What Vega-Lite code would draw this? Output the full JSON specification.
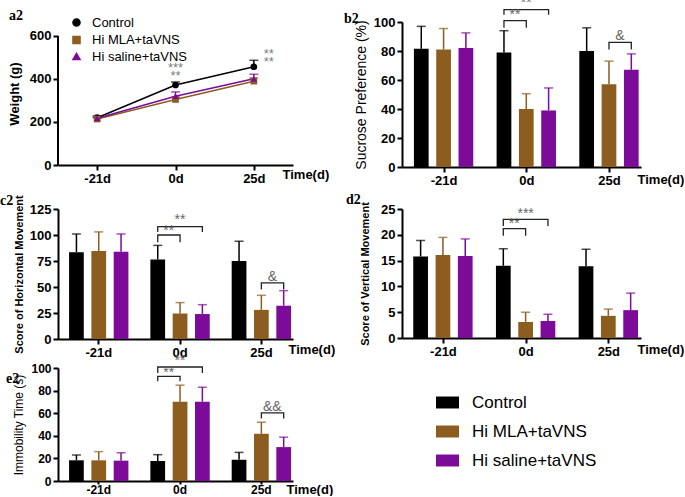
{
  "$schema": "https://vega.github.io/schema/vega-lite/v6.json",
  "padding": {"left": 0, "top": -4, "right": 0, "bottom": 0},
  "datasets": {
    "w": [
      {"t": "-21d", "g": "Control", "m": 220, "hi": 228},
      {"t": "-21d", "g": "Hi MLA+taVNS", "m": 214, "hi": 219},
      {"t": "-21d", "g": "Hi saline+taVNS", "m": 217, "hi": 222},
      {"t": "0d", "g": "Control", "m": 372, "hi": 386},
      {"t": "0d", "g": "Hi MLA+taVNS", "m": 305, "hi": 316},
      {"t": "0d", "g": "Hi saline+taVNS", "m": 320, "hi": 340},
      {"t": "25d", "g": "Control", "m": 457, "hi": 487},
      {"t": "25d", "g": "Hi MLA+taVNS", "m": 390, "hi": 405},
      {"t": "25d", "g": "Hi saline+taVNS", "m": 401, "hi": 422}
    ],
    "wtxt": [
      {"t": "0d", "y": 452, "s": "***", "k": "c"},
      {"t": "0d", "y": 414, "s": "**", "k": "c"},
      {"t": "25d", "y": 516, "s": "**", "k": "r"},
      {"t": "25d", "y": 479, "s": "**", "k": "r"}
    ],
    "bars": [
      {"p": "b2", "t": "-21d", "g": "Control", "m": 81.5, "hi": 97},
      {"p": "b2", "t": "-21d", "g": "Hi MLA+taVNS", "m": 81, "hi": 95.5},
      {"p": "b2", "t": "-21d", "g": "Hi saline+taVNS", "m": 82, "hi": 92.5},
      {"p": "b2", "t": "0d", "g": "Control", "m": 79, "hi": 94},
      {"p": "b2", "t": "0d", "g": "Hi MLA+taVNS", "m": 40, "hi": 50.5},
      {"p": "b2", "t": "0d", "g": "Hi saline+taVNS", "m": 39, "hi": 54.5},
      {"p": "b2", "t": "25d", "g": "Control", "m": 80, "hi": 96},
      {"p": "b2", "t": "25d", "g": "Hi MLA+taVNS", "m": 57, "hi": 73},
      {"p": "b2", "t": "25d", "g": "Hi saline+taVNS", "m": 67, "hi": 78},
      {"p": "c2", "t": "-21d", "g": "Control", "m": 83.5, "hi": 101},
      {"p": "c2", "t": "-21d", "g": "Hi MLA+taVNS", "m": 84.5, "hi": 103},
      {"p": "c2", "t": "-21d", "g": "Hi saline+taVNS", "m": 84, "hi": 101},
      {"p": "c2", "t": "0d", "g": "Control", "m": 76.5, "hi": 90},
      {"p": "c2", "t": "0d", "g": "Hi MLA+taVNS", "m": 24.5, "hi": 35},
      {"p": "c2", "t": "0d", "g": "Hi saline+taVNS", "m": 24, "hi": 33},
      {"p": "c2", "t": "25d", "g": "Control", "m": 75, "hi": 94},
      {"p": "c2", "t": "25d", "g": "Hi MLA+taVNS", "m": 28, "hi": 42},
      {"p": "c2", "t": "25d", "g": "Hi saline+taVNS", "m": 32, "hi": 46.5},
      {"p": "d2", "t": "-21d", "g": "Control", "m": 15.8, "hi": 18.9},
      {"p": "d2", "t": "-21d", "g": "Hi MLA+taVNS", "m": 16.1, "hi": 19.5},
      {"p": "d2", "t": "-21d", "g": "Hi saline+taVNS", "m": 15.9, "hi": 19.2},
      {"p": "d2", "t": "0d", "g": "Control", "m": 14, "hi": 17.3},
      {"p": "d2", "t": "0d", "g": "Hi MLA+taVNS", "m": 3.1, "hi": 5.0},
      {"p": "d2", "t": "0d", "g": "Hi saline+taVNS", "m": 3.3, "hi": 4.6},
      {"p": "d2", "t": "25d", "g": "Control", "m": 13.9, "hi": 17.2},
      {"p": "d2", "t": "25d", "g": "Hi MLA+taVNS", "m": 4.3, "hi": 5.6},
      {"p": "d2", "t": "25d", "g": "Hi saline+taVNS", "m": 5.4, "hi": 8.7},
      {"p": "e2", "t": "-21d", "g": "Control", "m": 18.3, "hi": 23},
      {"p": "e2", "t": "-21d", "g": "Hi MLA+taVNS", "m": 18.3, "hi": 26},
      {"p": "e2", "t": "-21d", "g": "Hi saline+taVNS", "m": 18, "hi": 25},
      {"p": "e2", "t": "0d", "g": "Control", "m": 17.7, "hi": 23.3},
      {"p": "e2", "t": "0d", "g": "Hi MLA+taVNS", "m": 70.2, "hi": 84.8},
      {"p": "e2", "t": "0d", "g": "Hi saline+taVNS", "m": 70.2, "hi": 83},
      {"p": "e2", "t": "25d", "g": "Control", "m": 18.8, "hi": 25.3},
      {"p": "e2", "t": "25d", "g": "Hi MLA+taVNS", "m": 41.8, "hi": 52},
      {"p": "e2", "t": "25d", "g": "Hi saline+taVNS", "m": 30, "hi": 38.8}
    ],
    "brk": [
      {"p": "b2", "id": "b1", "t": "0d", "g": "Control", "y": 96, "o": 1},
      {"p": "b2", "id": "b1", "t": "0d", "g": "Control", "y": 101, "o": 2},
      {"p": "b2", "id": "b1", "t": "0d", "g": "Hi MLA+taVNS", "y": 101, "o": 3},
      {"p": "b2", "id": "b1", "t": "0d", "g": "Hi MLA+taVNS", "y": 96, "o": 4},
      {"p": "b2", "id": "b2", "t": "0d", "g": "Control", "y": 105, "o": 1},
      {"p": "b2", "id": "b2", "t": "0d", "g": "Control", "y": 108.6, "o": 2},
      {"p": "b2", "id": "b2", "t": "0d", "g": "Hi saline+taVNS", "y": 108.6, "o": 3},
      {"p": "b2", "id": "b2", "t": "0d", "g": "Hi saline+taVNS", "y": 105, "o": 4},
      {"p": "b2", "id": "b3", "t": "25d", "g": "Hi MLA+taVNS", "y": 81, "o": 1},
      {"p": "b2", "id": "b3", "t": "25d", "g": "Hi MLA+taVNS", "y": 86, "o": 2},
      {"p": "b2", "id": "b3", "t": "25d", "g": "Hi saline+taVNS", "y": 86, "o": 3},
      {"p": "b2", "id": "b3", "t": "25d", "g": "Hi saline+taVNS", "y": 81, "o": 4},
      {"p": "c2", "id": "c1", "t": "0d", "g": "Control", "y": 93, "o": 1},
      {"p": "c2", "id": "c1", "t": "0d", "g": "Control", "y": 100, "o": 2},
      {"p": "c2", "id": "c1", "t": "0d", "g": "Hi MLA+taVNS", "y": 100, "o": 3},
      {"p": "c2", "id": "c1", "t": "0d", "g": "Hi MLA+taVNS", "y": 93, "o": 4},
      {"p": "c2", "id": "c2", "t": "0d", "g": "Control", "y": 103, "o": 1},
      {"p": "c2", "id": "c2", "t": "0d", "g": "Control", "y": 108, "o": 2},
      {"p": "c2", "id": "c2", "t": "0d", "g": "Hi saline+taVNS", "y": 108, "o": 3},
      {"p": "c2", "id": "c2", "t": "0d", "g": "Hi saline+taVNS", "y": 103, "o": 4},
      {"p": "c2", "id": "c3", "t": "25d", "g": "Hi MLA+taVNS", "y": 47.5, "o": 1},
      {"p": "c2", "id": "c3", "t": "25d", "g": "Hi MLA+taVNS", "y": 54, "o": 2},
      {"p": "c2", "id": "c3", "t": "25d", "g": "Hi saline+taVNS", "y": 54, "o": 3},
      {"p": "c2", "id": "c3", "t": "25d", "g": "Hi saline+taVNS", "y": 47.5, "o": 4},
      {"p": "d2", "id": "d1", "t": "0d", "g": "Control", "y": 19.8, "o": 1},
      {"p": "d2", "id": "d1", "t": "0d", "g": "Control", "y": 21.2, "o": 2},
      {"p": "d2", "id": "d1", "t": "0d", "g": "Hi MLA+taVNS", "y": 21.2, "o": 3},
      {"p": "d2", "id": "d1", "t": "0d", "g": "Hi MLA+taVNS", "y": 19.8, "o": 4},
      {"p": "d2", "id": "d2", "t": "0d", "g": "Control", "y": 21.7, "o": 1},
      {"p": "d2", "id": "d2", "t": "0d", "g": "Control", "y": 23.0, "o": 2},
      {"p": "d2", "id": "d2", "t": "0d", "g": "Hi saline+taVNS", "y": 23.0, "o": 3},
      {"p": "d2", "id": "d2", "t": "0d", "g": "Hi saline+taVNS", "y": 21.7, "o": 4},
      {"p": "e2", "id": "e1", "t": "0d", "g": "Control", "y": 88.2, "o": 1},
      {"p": "e2", "id": "e1", "t": "0d", "g": "Control", "y": 92.6, "o": 2},
      {"p": "e2", "id": "e1", "t": "0d", "g": "Hi MLA+taVNS", "y": 92.6, "o": 3},
      {"p": "e2", "id": "e1", "t": "0d", "g": "Hi MLA+taVNS", "y": 88.2, "o": 4},
      {"p": "e2", "id": "e2", "t": "0d", "g": "Control", "y": 95.6, "o": 1},
      {"p": "e2", "id": "e2", "t": "0d", "g": "Control", "y": 100.9, "o": 2},
      {"p": "e2", "id": "e2", "t": "0d", "g": "Hi saline+taVNS", "y": 100.9, "o": 3},
      {"p": "e2", "id": "e2", "t": "0d", "g": "Hi saline+taVNS", "y": 95.6, "o": 4},
      {"p": "e2", "id": "e3", "t": "25d", "g": "Hi MLA+taVNS", "y": 55.3, "o": 1},
      {"p": "e2", "id": "e3", "t": "25d", "g": "Hi MLA+taVNS", "y": 60.3, "o": 2},
      {"p": "e2", "id": "e3", "t": "25d", "g": "Hi saline+taVNS", "y": 60.3, "o": 3},
      {"p": "e2", "id": "e3", "t": "25d", "g": "Hi saline+taVNS", "y": 55.3, "o": 4}
    ],
    "txt": [
      {"p": "b2", "t": "0d", "g": "Control", "y": 104.5, "s": "**", "k": "half"},
      {"p": "b2", "t": "0d", "g": "Hi MLA+taVNS", "y": 113, "s": "**", "k": "mid"},
      {"p": "b2", "t": "25d", "g": "Hi MLA+taVNS", "y": 90.5, "s": "&", "k": "half"},
      {"p": "c2", "t": "0d", "g": "Control", "y": 103.5, "s": "**", "k": "half"},
      {"p": "c2", "t": "0d", "g": "Hi MLA+taVNS", "y": 114, "s": "**", "k": "mid"},
      {"p": "c2", "t": "25d", "g": "Hi MLA+taVNS", "y": 60, "s": "&", "k": "half"},
      {"p": "d2", "t": "0d", "g": "Control", "y": 22.0, "s": "**", "k": "half"},
      {"p": "d2", "t": "0d", "g": "Hi MLA+taVNS", "y": 24.1, "s": "***", "k": "mid"},
      {"p": "e2", "t": "0d", "g": "Control", "y": 96, "s": "**", "k": "half"},
      {"p": "e2", "t": "0d", "g": "Hi MLA+taVNS", "y": 106, "s": "**", "k": "mid"},
      {"p": "e2", "t": "25d", "g": "Hi MLA+taVNS", "y": 65.5, "s": "&&", "k": "half"}
    ]
  },
  "concat": [
    {
      "vconcat": [
        {
          "width": 235, "height": 143,
          "title": {"text": "a2", "dx": -49, "offset": -7},
          "resolve": {"scale": {"x": "independent"}, "axis": {"x": "independent"}},
          "layer": [
            {
              "data": {"name": "w"},
              "encoding": {
                "x": {"field": "t", "type": "ordinal", "sort": ["-21d", "0d", "25d"], "scale": {"type": "point", "padding": 0.5},
                      "axis": {"title": "Time(d)", "titleX": 224, "titleY": 9, "orient": "bottom"}}
              },
              "layer": [
                {"mark": {"type": "rule", "strokeWidth": 1.5},
                 "encoding": {
                   "y": {"field": "m", "type": "quantitative", "title": "Weight (g)", "scale": {"domain": [0, 665.1], "nice": false},
                         "axis": {"values": [0, 200, 400, 600], "domain": false, "titleFontWeight": "bold", "titleFontSize": 13, "titlePadding": 8}},
                   "y2": {"field": "hi"},
                   "color": {"field": "g", "type": "nominal", "scale": {"domain": ["Control", "Hi MLA+taVNS", "Hi saline+taVNS"], "range": ["#000000", "#8C5D1F", "#7B0B98"]},
                             "legend": {"orient": "none", "legendX": 12, "legendY": -6, "title": null, "labelFontSize": 13, "labelFont": "Liberation Sans", "labelColor": "black", "symbolSize": 50, "rowPadding": 2.5, "labelOffset": 9,
                                        "encode": {"symbols": {"update": {"shape": {"signal": "datum.value === 'Control' ? 'M-2.3,0H2.3M-1,0A1,1 0 1,0 1,0A1,1 0 1,0 -1,0Z' : datum.value === 'Hi MLA+taVNS' ? 'M-2.3,0H2.3M-0.9,-0.9H0.9V0.9H-0.9Z' : 'M-2.3,0H2.3M0,-1.1L1,0.75H-1Z'"}, "stroke": {"signal": "datum.value === 'Control' ? '#000000' : datum.value === 'Hi MLA+taVNS' ? '#8C5D1F' : '#7B0B98'"}, "strokeWidth": {"value": 1.5}}}}}}}},
                {"mark": {"type": "tick", "thickness": 1.5, "size": 9, "orient": "horizontal"},
                 "encoding": {"y": {"field": "hi", "type": "quantitative", "title": "Weight (g)", "axis": {"values": [0, 200, 400, 600], "domain": false, "titleFontWeight": "bold", "titleFontSize": 13, "titlePadding": 8}},
                              "color": {"field": "g", "type": "nominal",
                                        "legend": {"orient": "none", "legendX": 12, "legendY": -6, "title": null, "labelFontSize": 13, "labelFont": "Liberation Sans", "labelColor": "black", "symbolSize": 50, "rowPadding": 2.5, "labelOffset": 9,
                                        "encode": {"symbols": {"update": {"shape": {"signal": "datum.value === 'Control' ? 'M-2.3,0H2.3M-1,0A1,1 0 1,0 1,0A1,1 0 1,0 -1,0Z' : datum.value === 'Hi MLA+taVNS' ? 'M-2.3,0H2.3M-0.9,-0.9H0.9V0.9H-0.9Z' : 'M-2.3,0H2.3M0,-1.1L1,0.75H-1Z'"}, "stroke": {"signal": "datum.value === 'Control' ? '#000000' : datum.value === 'Hi MLA+taVNS' ? '#8C5D1F' : '#7B0B98'"}, "strokeWidth": {"value": 1.5}}}}}}}},
                {"mark": {"type": "line", "strokeWidth": 1.5},
                 "encoding": {"y": {"field": "m", "type": "quantitative", "title": "Weight (g)", "axis": {"values": [0, 200, 400, 600], "domain": false, "titleFontWeight": "bold", "titleFontSize": 13, "titlePadding": 8}},
                              "color": {"field": "g", "type": "nominal",
                                        "legend": {"orient": "none", "legendX": 12, "legendY": -6, "title": null, "labelFontSize": 13, "labelFont": "Liberation Sans", "labelColor": "black", "symbolSize": 50, "rowPadding": 2.5, "labelOffset": 9,
                                        "encode": {"symbols": {"update": {"shape": {"signal": "datum.value === 'Control' ? 'M-2.3,0H2.3M-1,0A1,1 0 1,0 1,0A1,1 0 1,0 -1,0Z' : datum.value === 'Hi MLA+taVNS' ? 'M-2.3,0H2.3M-0.9,-0.9H0.9V0.9H-0.9Z' : 'M-2.3,0H2.3M0,-1.1L1,0.75H-1Z'"}, "stroke": {"signal": "datum.value === 'Control' ? '#000000' : datum.value === 'Hi MLA+taVNS' ? '#8C5D1F' : '#7B0B98'"}, "strokeWidth": {"value": 1.5}}}}}}}},
                {"mark": {"type": "point", "filled": true, "size": 45, "opacity": 1},
                 "encoding": {"y": {"field": "m", "type": "quantitative", "title": "Weight (g)", "axis": {"values": [0, 200, 400, 600], "domain": false, "titleFontWeight": "bold", "titleFontSize": 13, "titlePadding": 8}},
                              "color": {"field": "g", "type": "nominal",
                                        "legend": {"orient": "none", "legendX": 12, "legendY": -6, "title": null, "labelFontSize": 13, "labelFont": "Liberation Sans", "labelColor": "black", "symbolSize": 50, "rowPadding": 2.5, "labelOffset": 9,
                                        "encode": {"symbols": {"update": {"shape": {"signal": "datum.value === 'Control' ? 'M-2.3,0H2.3M-1,0A1,1 0 1,0 1,0A1,1 0 1,0 -1,0Z' : datum.value === 'Hi MLA+taVNS' ? 'M-2.3,0H2.3M-0.9,-0.9H0.9V0.9H-0.9Z' : 'M-2.3,0H2.3M0,-1.1L1,0.75H-1Z'"}, "stroke": {"signal": "datum.value === 'Control' ? '#000000' : datum.value === 'Hi MLA+taVNS' ? '#8C5D1F' : '#7B0B98'"}, "strokeWidth": {"value": 1.5}}}}}},
                              "shape": {"field": "g", "type": "nominal", "scale": {"domain": ["Control", "Hi MLA+taVNS", "Hi saline+taVNS"], "range": ["circle", "square", "triangle-up"]},
                                        "legend": {"orient": "none", "legendX": 12, "legendY": -6, "title": null, "labelFontSize": 13, "labelFont": "Liberation Sans", "labelColor": "black", "symbolSize": 50, "rowPadding": 2.5, "labelOffset": 9,
                                        "encode": {"symbols": {"update": {"shape": {"signal": "datum.value === 'Control' ? 'M-2.3,0H2.3M-1,0A1,1 0 1,0 1,0A1,1 0 1,0 -1,0Z' : datum.value === 'Hi MLA+taVNS' ? 'M-2.3,0H2.3M-0.9,-0.9H0.9V0.9H-0.9Z' : 'M-2.3,0H2.3M0,-1.1L1,0.75H-1Z'"}, "stroke": {"signal": "datum.value === 'Control' ? '#000000' : datum.value === 'Hi MLA+taVNS' ? '#8C5D1F' : '#7B0B98'"}, "strokeWidth": {"value": 1.5}}}}}}}},
                {"data": {"name": "wtxt"}, "transform": [{"filter": "datum.k === 'c'"}],
                 "mark": {"type": "text", "color": "#808080", "fontSize": 13, "baseline": "middle"},
                 "encoding": {"y": {"field": "y", "type": "quantitative", "title": "Weight (g)", "axis": {"values": [0, 200, 400, 600], "domain": false, "titleFontWeight": "bold", "titleFontSize": 13, "titlePadding": 8}}, "text": {"field": "s"}}},
                {"data": {"name": "wtxt"}, "transform": [{"filter": "datum.k === 'r'"}],
                 "mark": {"type": "text", "color": "#808080", "fontSize": 13, "baseline": "middle", "dx": 15},
                 "encoding": {"y": {"field": "y", "type": "quantitative", "title": "Weight (g)", "axis": {"values": [0, 200, 400, 600], "domain": false, "titleFontWeight": "bold", "titleFontSize": 13, "titlePadding": 8}}, "text": {"field": "s"}}}
              ]
            },
            {
              "data": {"values": [{}]},
              "mark": {"type": "rule", "color": "black", "strokeWidth": 2},
              "encoding": {
                "x": {"datum": 0, "type": "quantitative", "scale": {"domain": [0, 1]}, "axis": null},
                "y": {"datum": 0, "type": "quantitative", "title": "Weight (g)", "axis": {"values": [0, 200, 400, 600], "domain": false, "titleFontWeight": "bold", "titleFontSize": 13, "titlePadding": 8}},
                "y2": {"datum": 600}
              }
            }
          ]
        },
        {
          "vconcat": [
            {
              "width": 235, "height": 130,
              "title": {"text": "c2", "dx": -58, "offset": -13},
              "encoding": {
                "x": {"field": "t", "type": "nominal", "sort": ["-21d", "0d", "25d"], "scale": {"paddingInner": 0.27, "paddingOuter": 0.08, "align": 0.85},
                      "axis": {"title": "Time(d)", "titleX": 230, "titleY": 10}},
                "xOffset": {"field": "g", "type": "nominal", "sort": ["Control", "Hi MLA+taVNS", "Hi saline+taVNS"], "scale": {"paddingInner": 0.34, "paddingOuter": 0}}
              },
              "layer": [
                {"data": {"name": "bars"}, "transform": [{"filter": "datum.p === 'c2'"}], "mark": {"type": "bar"},
                 "encoding": {"y": {"field": "m", "type": "quantitative", "title": "Score of Horizontal Movement", "scale": {"domain": [0, 125], "nice": false},
                                    "axis": {"values": [0, 25, 50, 75, 100, 125], "titleFontWeight": "bold", "titleFontSize": 11, "titlePadding": 5}},
                              "color": {"field": "g", "type": "nominal", "legend": null}}},
                {"data": {"name": "bars"}, "transform": [{"filter": "datum.p === 'c2'"}], "mark": {"type": "rule", "strokeWidth": 1.5},
                 "encoding": {"y": {"field": "m", "type": "quantitative", "title": "Score of Horizontal Movement", "axis": {"values": [0, 25, 50, 75, 100, 125], "titleFontWeight": "bold", "titleFontSize": 11, "titlePadding": 5}}, "y2": {"field": "hi"}, "color": {"field": "g", "type": "nominal", "legend": null}}},
                {"data": {"name": "bars"}, "transform": [{"filter": "datum.p === 'c2'"}], "mark": {"type": "tick", "thickness": 1.5, "size": 9, "orient": "horizontal"},
                 "encoding": {"y": {"field": "hi", "type": "quantitative", "title": "Score of Horizontal Movement", "axis": {"values": [0, 25, 50, 75, 100, 125], "titleFontWeight": "bold", "titleFontSize": 11, "titlePadding": 5}}, "color": {"field": "g", "type": "nominal", "legend": null}}},
                {"data": {"name": "brk"}, "transform": [{"filter": "datum.p === 'c2'"}], "mark": {"type": "line", "color": "#222222", "strokeWidth": 1.3},
                 "encoding": {"y": {"field": "y", "type": "quantitative", "title": "Score of Horizontal Movement", "axis": {"values": [0, 25, 50, 75, 100, 125], "titleFontWeight": "bold", "titleFontSize": 11, "titlePadding": 5}}, "detail": {"field": "id"}, "order": {"field": "o"}}},
                {"data": {"name": "txt"}, "transform": [{"filter": "datum.p === 'c2' && datum.k === 'half'"}], "mark": {"type": "text", "color": "#666666", "fontSize": 14, "baseline": "middle", "dx": 11},
                 "encoding": {"y": {"field": "y", "type": "quantitative", "title": "Score of Horizontal Movement", "axis": {"values": [0, 25, 50, 75, 100, 125], "titleFontWeight": "bold", "titleFontSize": 11, "titlePadding": 5}}, "text": {"field": "s"}}},
                {"data": {"name": "txt"}, "transform": [{"filter": "datum.p === 'c2' && datum.k === 'mid'"}], "mark": {"type": "text", "color": "#666666", "fontSize": 14, "baseline": "middle"},
                 "encoding": {"y": {"field": "y", "type": "quantitative", "title": "Score of Horizontal Movement", "axis": {"values": [0, 25, 50, 75, 100, 125], "titleFontWeight": "bold", "titleFontSize": 11, "titlePadding": 5}}, "text": {"field": "s"}}}
              ]
            },
            {
              "width": 235, "height": 113,
              "title": {"text": "e2", "dx": -52, "offset": -32},
              "encoding": {
                "x": {"field": "t", "type": "nominal", "sort": ["-21d", "0d", "25d"], "scale": {"paddingInner": 0.27, "paddingOuter": 0.08, "align": 0.85},
                      "axis": {"title": "Time(d)", "titleX": 228, "titleY": 8, "labelFontSize": 12, "labelPadding": 0, "tickSize": 3}},
                "xOffset": {"field": "g", "type": "nominal", "sort": ["Control", "Hi MLA+taVNS", "Hi saline+taVNS"], "scale": {"paddingInner": 0.34, "paddingOuter": 0}}
              },
              "layer": [
                {"data": {"name": "bars"}, "transform": [{"filter": "datum.p === 'e2'"}], "mark": {"type": "bar"},
                 "encoding": {"y": {"field": "m", "type": "quantitative", "title": "Immobility Time (s)", "scale": {"domain": [0, 100], "nice": false},
                                    "axis": {"values": [0, 20, 40, 60, 80, 100], "titleFontWeight": "normal", "titleFontSize": 12, "titlePadding": 5, "labelFontSize": 12}},
                              "color": {"field": "g", "type": "nominal", "legend": null}}},
                {"data": {"name": "bars"}, "transform": [{"filter": "datum.p === 'e2'"}], "mark": {"type": "rule", "strokeWidth": 1.5},
                 "encoding": {"y": {"field": "m", "type": "quantitative", "title": "Immobility Time (s)", "axis": {"values": [0, 20, 40, 60, 80, 100], "titleFontWeight": "normal", "titleFontSize": 12, "titlePadding": 5, "labelFontSize": 12}}, "y2": {"field": "hi"}, "color": {"field": "g", "type": "nominal", "legend": null}}},
                {"data": {"name": "bars"}, "transform": [{"filter": "datum.p === 'e2'"}], "mark": {"type": "tick", "thickness": 1.5, "size": 9, "orient": "horizontal"},
                 "encoding": {"y": {"field": "hi", "type": "quantitative", "title": "Immobility Time (s)", "axis": {"values": [0, 20, 40, 60, 80, 100], "titleFontWeight": "normal", "titleFontSize": 12, "titlePadding": 5, "labelFontSize": 12}}, "color": {"field": "g", "type": "nominal", "legend": null}}},
                {"data": {"name": "brk"}, "transform": [{"filter": "datum.p === 'e2'"}], "mark": {"type": "line", "color": "#222222", "strokeWidth": 1.3},
                 "encoding": {"y": {"field": "y", "type": "quantitative", "title": "Immobility Time (s)", "axis": {"values": [0, 20, 40, 60, 80, 100], "titleFontWeight": "normal", "titleFontSize": 12, "titlePadding": 5, "labelFontSize": 12}}, "detail": {"field": "id"}, "order": {"field": "o"}}},
                {"data": {"name": "txt"}, "transform": [{"filter": "datum.p === 'e2' && datum.k === 'half'"}], "mark": {"type": "text", "color": "#666666", "fontSize": 14, "baseline": "middle", "dx": 11},
                 "encoding": {"y": {"field": "y", "type": "quantitative", "title": "Immobility Time (s)", "axis": {"values": [0, 20, 40, 60, 80, 100], "titleFontWeight": "normal", "titleFontSize": 12, "titlePadding": 5, "labelFontSize": 12}}, "text": {"field": "s"}}},
                {"data": {"name": "txt"}, "transform": [{"filter": "datum.p === 'e2' && datum.k === 'mid'"}], "mark": {"type": "text", "color": "#666666", "fontSize": 14, "baseline": "middle"},
                 "encoding": {"y": {"field": "y", "type": "quantitative", "title": "Immobility Time (s)", "axis": {"values": [0, 20, 40, 60, 80, 100], "titleFontWeight": "normal", "titleFontSize": 12, "titlePadding": 5, "labelFontSize": 12}}, "text": {"field": "s"}}}
              ]
            }
          ],
          "spacing": -5,
          "resolve": {"legend": {"color": "independent", "shape": "independent"}}
        }
      ],
      "spacing": 8,
      "resolve": {"legend": {"color": "independent", "shape": "independent"}}
    },
    {
      "vconcat": [
        {
          "width": 239, "height": 145,
          "title": {"text": "b2", "dx": -58, "offset": -30},
          "encoding": {
            "x": {"field": "t", "type": "nominal", "sort": ["-21d", "0d", "25d"], "scale": {"paddingInner": 0.27, "paddingOuter": 0.08, "align": 0.9},
                  "axis": {"title": "Time(d)", "titleX": 235, "titleY": 12}},
            "xOffset": {"field": "g", "type": "nominal", "sort": ["Control", "Hi MLA+taVNS", "Hi saline+taVNS"], "scale": {"paddingInner": 0.34, "paddingOuter": 0}}
          },
          "layer": [
            {"data": {"name": "bars"}, "transform": [{"filter": "datum.p === 'b2'"}], "mark": {"type": "bar"},
             "encoding": {"y": {"field": "m", "type": "quantitative", "title": "Sucrose Preference (%)", "scale": {"domain": [0, 100], "nice": false},
                                "axis": {"values": [0, 20, 40, 60, 80, 100], "titleFontWeight": "normal", "titleFontSize": 14, "titlePadding": 5}},
                          "color": {"field": "g", "type": "nominal", "legend": null}}},
            {"data": {"name": "bars"}, "transform": [{"filter": "datum.p === 'b2'"}], "mark": {"type": "rule", "strokeWidth": 1.5},
             "encoding": {"y": {"field": "m", "type": "quantitative", "title": "Sucrose Preference (%)", "axis": {"values": [0, 20, 40, 60, 80, 100], "titleFontWeight": "normal", "titleFontSize": 14, "titlePadding": 5}}, "y2": {"field": "hi"}, "color": {"field": "g", "type": "nominal", "legend": null}}},
            {"data": {"name": "bars"}, "transform": [{"filter": "datum.p === 'b2'"}], "mark": {"type": "tick", "thickness": 1.5, "size": 9, "orient": "horizontal"},
             "encoding": {"y": {"field": "hi", "type": "quantitative", "title": "Sucrose Preference (%)", "axis": {"values": [0, 20, 40, 60, 80, 100], "titleFontWeight": "normal", "titleFontSize": 14, "titlePadding": 5}}, "color": {"field": "g", "type": "nominal", "legend": null}}},
            {"data": {"name": "brk"}, "transform": [{"filter": "datum.p === 'b2'"}], "mark": {"type": "line", "color": "#222222", "strokeWidth": 1.3},
             "encoding": {"y": {"field": "y", "type": "quantitative", "title": "Sucrose Preference (%)", "axis": {"values": [0, 20, 40, 60, 80, 100], "titleFontWeight": "normal", "titleFontSize": 14, "titlePadding": 5}}, "detail": {"field": "id"}, "order": {"field": "o"}}},
            {"data": {"name": "txt"}, "transform": [{"filter": "datum.p === 'b2' && datum.k === 'half'"}], "mark": {"type": "text", "color": "#666666", "fontSize": 14, "baseline": "middle", "dx": 11},
             "encoding": {"y": {"field": "y", "type": "quantitative", "title": "Sucrose Preference (%)", "axis": {"values": [0, 20, 40, 60, 80, 100], "titleFontWeight": "normal", "titleFontSize": 14, "titlePadding": 5}}, "text": {"field": "s"}}},
            {"data": {"name": "txt"}, "transform": [{"filter": "datum.p === 'b2' && datum.k === 'mid'"}], "mark": {"type": "text", "color": "#666666", "fontSize": 14, "baseline": "middle"},
             "encoding": {"y": {"field": "y", "type": "quantitative", "title": "Sucrose Preference (%)", "axis": {"values": [0, 20, 40, 60, 80, 100], "titleFontWeight": "normal", "titleFontSize": 14, "titlePadding": 5}}, "text": {"field": "s"}}}
          ]
        },
        {
          "width": 239, "height": 129,
          "title": {"text": "d2", "dx": -56, "offset": -5},
          "encoding": {
            "x": {"field": "t", "type": "nominal", "sort": ["-21d", "0d", "25d"], "scale": {"paddingInner": 0.27, "paddingOuter": 0.08, "align": 0.85},
                  "axis": {"title": "Time(d)", "titleX": 235, "titleY": 11}},
            "xOffset": {"field": "g", "type": "nominal", "sort": ["Control", "Hi MLA+taVNS", "Hi saline+taVNS"], "scale": {"paddingInner": 0.34, "paddingOuter": 0}}
          },
          "layer": [
            {"data": {"name": "bars"}, "transform": [{"filter": "datum.p === 'd2'"}], "mark": {"type": "bar"},
             "encoding": {"y": {"field": "m", "type": "quantitative", "title": "Score of Vertical Movement", "scale": {"domain": [0, 25], "nice": false},
                                "axis": {"values": [0, 5, 10, 15, 20, 25], "titleFontWeight": "bold", "titleFontSize": 11, "titlePadding": 10}},
                          "color": {"field": "g", "type": "nominal",
                                    "legend": {"orient": "none", "legendX": 34, "legendY": 182, "title": null, "symbolType": "M-1,-0.52H1V0.52H-1Z", "symbolSize": 529, "symbolStrokeWidth": 0, "symbolOpacity": 1, "labelFontSize": 17, "labelFont": "Liberation Sans", "labelColor": "black", "rowPadding": 9, "labelOffset": 13}}}},
            {"data": {"name": "bars"}, "transform": [{"filter": "datum.p === 'd2'"}], "mark": {"type": "rule", "strokeWidth": 1.5},
             "encoding": {"y": {"field": "m", "type": "quantitative", "title": "Score of Vertical Movement", "axis": {"values": [0, 5, 10, 15, 20, 25], "titleFontWeight": "bold", "titleFontSize": 11, "titlePadding": 10}}, "y2": {"field": "hi"}, "color": {"field": "g", "type": "nominal", "legend": null}}},
            {"data": {"name": "bars"}, "transform": [{"filter": "datum.p === 'd2'"}], "mark": {"type": "tick", "thickness": 1.5, "size": 9, "orient": "horizontal"},
             "encoding": {"y": {"field": "hi", "type": "quantitative", "title": "Score of Vertical Movement", "axis": {"values": [0, 5, 10, 15, 20, 25], "titleFontWeight": "bold", "titleFontSize": 11, "titlePadding": 10}}, "color": {"field": "g", "type": "nominal", "legend": null}}},
            {"data": {"name": "brk"}, "transform": [{"filter": "datum.p === 'd2'"}], "mark": {"type": "line", "color": "#222222", "strokeWidth": 1.3},
             "encoding": {"y": {"field": "y", "type": "quantitative", "title": "Score of Vertical Movement", "axis": {"values": [0, 5, 10, 15, 20, 25], "titleFontWeight": "bold", "titleFontSize": 11, "titlePadding": 10}}, "detail": {"field": "id"}, "order": {"field": "o"}}},
            {"data": {"name": "txt"}, "transform": [{"filter": "datum.p === 'd2' && datum.k === 'half'"}], "mark": {"type": "text", "color": "#666666", "fontSize": 14, "baseline": "middle", "dx": 11},
             "encoding": {"y": {"field": "y", "type": "quantitative", "title": "Score of Vertical Movement", "axis": {"values": [0, 5, 10, 15, 20, 25], "titleFontWeight": "bold", "titleFontSize": 11, "titlePadding": 10}}, "text": {"field": "s"}}},
            {"data": {"name": "txt"}, "transform": [{"filter": "datum.p === 'd2' && datum.k === 'mid'"}], "mark": {"type": "text", "color": "#666666", "fontSize": 14, "baseline": "middle"},
             "encoding": {"y": {"field": "y", "type": "quantitative", "title": "Score of Vertical Movement", "axis": {"values": [0, 5, 10, 15, 20, 25], "titleFontWeight": "bold", "titleFontSize": 11, "titlePadding": 10}}, "text": {"field": "s"}}}
          ]
        }
      ],
      "spacing": 5,
      "resolve": {"legend": {"color": "independent", "shape": "independent"}}
    }
  ],
  "columns": 2,
  "align": "none",
  "spacing": 9,
  "resolve": {"legend": {"color": "independent", "shape": "independent"}},
  "config": {
    "view": {"stroke": null},
    "font": "Liberation Sans",
    "axis": {"domainColor": "black", "domainWidth": 2, "tickColor": "black", "tickWidth": 2, "tickSize": 5,
             "labelColor": "black", "labelFont": "Liberation Sans", "labelFontWeight": "bold", "labelFontSize": 13, "labelPadding": 2,
             "titleColor": "black", "titleFont": "Liberation Sans", "grid": false},
    "axisX": {"labelAngle": 0, "titleFontWeight": "bold", "titleFontSize": 13, "titleAngle": 0, "titleAlign": "left", "titleBaseline": "middle"},
    "title": {"font": "Liberation Serif", "fontWeight": "bold", "fontSize": 14, "color": "black", "anchor": "start", "frame": "group"}
  }
}
